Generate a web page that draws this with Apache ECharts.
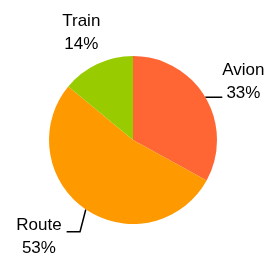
<!DOCTYPE html>
<html>
<head>
<meta charset="utf-8">
<script src="https://cdn.jsdelivr.net/npm/echarts@6/dist/echarts.min.js"></script>
<style>
  html, body { margin: 0; padding: 0; background: #fff; }
  #chart { width: 270px; height: 260px; }
</style>
</head>
<body>
<div id="chart"></div>
<script>
// transport mode shares
const categories = ['Avion', 'Route', 'Train'];
const values = [33, 53, 14];
const colors = ['#ff6633', '#ff9900', '#99cc00'];

// per-slice label placement (line lengths / padding only)
const labelLines = [
  { length: 0, length2: 17, show: true },
  { length: 27, length2: 4, show: true },
  { length: 35, length2: -23, show: false }
];
const labelPads = [[0, 0, 30, 0], [10, 0, 0, 0], [0, 0, 0, 0]];
const labelDist = [0, 5, 5];
// how far the bend of the leader line sits from the slice edge (0 = straight down)
const labelBend = [null, 0.3, null];

const chart = echarts.init(document.getElementById('chart'), null, { renderer: 'canvas' });

chart.setOption({
  animation: false,
  series: [{
    type: 'pie',
    center: [133, 140],
    radius: 84,
    startAngle: 90,
    clockwise: true,
    avoidLabelOverlap: false,
    itemStyle: { borderWidth: 0 },
    label: {
      formatter: '{c|{b}}\n{c|{d}%}',
      fontFamily: 'Liberation Sans, Arial, sans-serif',
      color: '#000',
      rich: {
        c: { align: 'center', fontSize: 17, lineHeight: 23, color: '#000', fontFamily: 'Liberation Sans, Arial, sans-serif' }
      }
    },
    labelLine: { lineStyle: { color: '#000', width: 1.5 } },
    labelLayout: function (p) {
      const k = labelBend[p.dataIndex];
      const pts = p.labelLinePoints;
      if (k == null || !pts) return {};
      const a = pts[0], c = pts[2];
      return { labelLinePoints: [a, [a[0] - k * (a[0] - c[0]), c[1]], c] };
    },
    data: categories.map((name, i) => ({
      name: name,
      value: values[i],
      itemStyle: { color: colors[i] },
      label: { padding: labelPads[i], distanceToLabelLine: labelDist[i] },
      labelLine: labelLines[i]
    }))
  }]
});
</script>
</body>
</html>
